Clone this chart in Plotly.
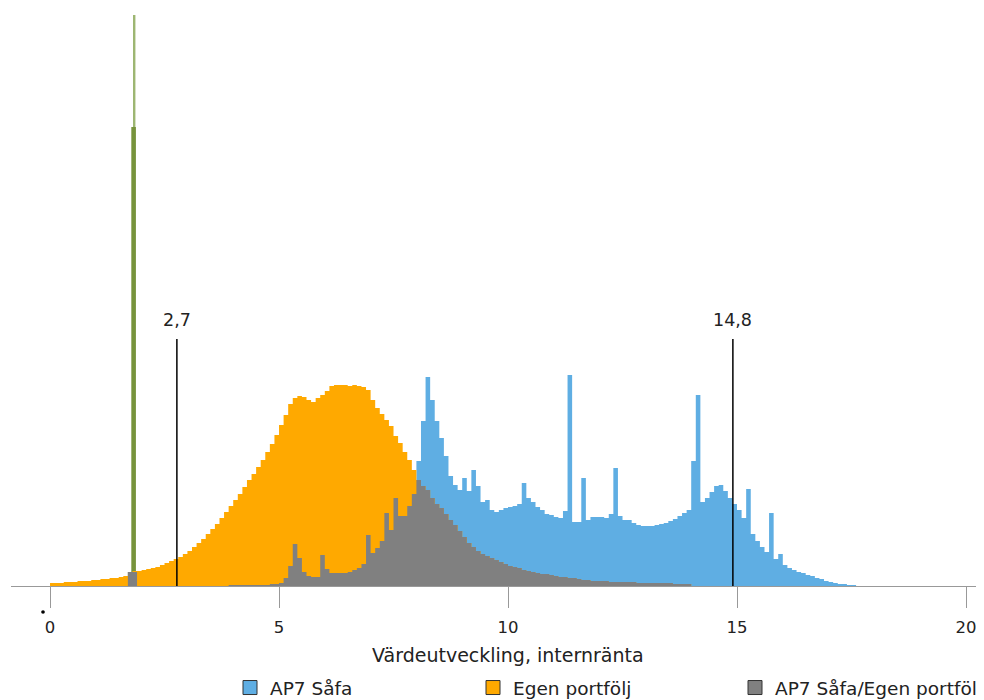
import plotly.graph_objects as go

# ---------------- data ----------------
BIN = 0.1  # histogram bin width (internal rate of return, %)

# AP7 Såfa – bin heights, bins start at 0.0 and step 0.1
blue = [
    0, 0, 0, 0, 0, 0, 0, 0, 0, 0,            # 0.0 - 0.9
    0, 0, 0, 0, 0, 0, 0, 14, 14, 0,          # 1.0 - 1.9
    0, 0, 0, 0, 0, 0, 0, 0, 0, 0,            # 2.0 - 2.9
    0, 0, 0, 0, 0, 0, 0, 0, 0, 1,            # 3.0 - 3.9
    1, 1, 1, 1, 1, 1, 1, 1, 2, 2,            # 4.0 - 4.9
    3, 8, 20, 42, 28, 14, 10, 9, 9, 31,      # 5.0 - 5.9
    17, 13, 13, 13, 13, 14, 16, 18, 22, 51,  # 6.0 - 6.9
    33, 38, 45, 73, 56, 88, 70, 70, 80, 92,  # 7.0 - 7.9
    125, 165, 209, 186, 165, 148, 130, 110, 101, 96,  # 8.0 - 8.9
    108, 95, 116, 100, 84, 86, 76, 74, 76, 78,        # 9.0 - 9.9
    79, 80, 82, 103, 88, 84, 79, 76, 72, 71,          # 10.0 - 10.9
    69, 68, 75, 211, 64, 64, 108, 66, 69, 69,         # 11.0 - 11.9
    69, 68, 72, 118, 70, 66, 66, 63, 61, 60,          # 12.0 - 12.9
    60, 60, 61, 62, 63, 65, 67, 70, 73, 76,           # 13.0 - 13.9
    125, 191, 84, 88, 94, 100, 101, 95, 88, 82,       # 14.0 - 14.9
    76, 68, 97, 52, 45, 39, 34, 73, 27, 32,           # 15.0 - 15.9
    21, 18, 16, 14, 13, 11, 10, 8, 7, 5,              # 16.0 - 16.9
    4, 3, 2, 2, 1, 1, 0,                              # 17.0 - 17.6
]

# Egen portfölj – bin heights, bins start at 0.0 and step 0.1
orange = [
    3, 3, 3, 4, 4, 4, 5, 5, 5, 6,                     # 0.0 - 0.9
    6, 7, 7, 8, 8, 9, 10, 14, 15, 15,                 # 1.0 - 1.9
    16, 17, 18, 19, 21, 23, 25, 27, 29, 32,           # 2.0 - 2.9
    35, 39, 43, 47, 52, 57, 62, 68, 74, 80,           # 3.0 - 3.9
    86, 92, 99, 106, 112, 119, 126, 134, 142, 151,    # 4.0 - 4.9
    161, 171, 182, 188, 190, 189, 186, 184, 188, 191, # 5.0 - 5.9
    195, 200, 201, 201, 201, 200, 201, 200, 199, 196, # 6.0 - 6.9
    186, 178, 172, 166, 160, 150, 143, 134, 126, 116, # 7.0 - 7.9
    106, 100, 96, 88, 82, 78, 72, 66, 61, 55,         # 8.0 - 8.9
    49, 43, 39, 35, 32, 30, 28, 26, 24, 22,           # 9.0 - 9.9
    20, 19, 18, 16, 15, 14, 13, 12, 12, 11,           # 10.0 - 10.9
    10, 9, 9, 8, 8, 7, 6, 6, 5, 5,                    # 11.0 - 11.9
    5, 5, 4, 4, 4, 4, 4, 4, 3, 3,                     # 12.0 - 12.9
    3, 3, 3, 3, 3, 3, 2, 2, 2, 2,                     # 13.0 - 13.9
]

# green spike (guaranteed-return outcome)
green_x = [1.825]
green_vals = [459]
green_peak_x = [1.847]
green_peak_vals = [571]

# vertical percentile markers
marker_pos = [2.77, 14.91]
marker_labels = ["2,7", "14,8"]
marker_height = 247

x_ticks = [0, 5, 10, 15, 20]
x_ticklabels = ["0", "5", "10", "15", "20"]

series_names = ["AP7 Såfa", "Egen portfölj", "AP7 Såfa/Egen portfölj"]
x_title = "Värdeutveckling, internränta"

# ---------------- derived ----------------
n = len(blue)
orange_full = orange + [0] * (n - len(orange))
overlap = [min(b, o) for b, o in zip(blue, orange_full)]
edges = [round(i * BIN, 3) for i in range(n + 1)]

BLUE = "#5FAEE3"
ORANGE = "#FFA900"
GRAY = "#808080"
GREEN = "#77933C"
GREEN_LIGHT = "#9DB672"
FONT = "DejaVu Sans"
TXT = "#222"

fig = go.Figure()

def step_area(vals, color):
    # histogram drawn as one filled step outline (no seams between bins)
    return go.Scatter(x=edges, y=list(vals) + [vals[-1]], mode="lines",
                      line=dict(shape="hv", width=0, color=color),
                      fill="tozeroy", fillcolor=color,
                      showlegend=False, hoverinfo="skip")

def bar(y, color, x, width):
    return go.Bar(x=x, y=y, width=width, marker=dict(color=color, line=dict(width=0)),
                  showlegend=False, hoverinfo="skip")

fig.add_trace(step_area(blue, BLUE))
fig.add_trace(step_area(orange_full, ORANGE))
fig.add_trace(bar(green_peak_vals, GREEN_LIGHT, green_peak_x, 0.035))
fig.add_trace(bar(green_vals, GREEN, green_x, 0.1))
fig.add_trace(step_area(overlap, GRAY))

# legend proxies
legend_ids = ["legend", "legend2", "legend3"]
for name, color, lid in zip(series_names, [BLUE, ORANGE, GRAY], legend_ids):
    fig.add_trace(go.Scatter(
        x=[None], y=[None], mode="markers", name=name, legend=lid,
        marker=dict(symbol="square", size=14, color=color, line=dict(color="#333", width=1)),
        showlegend=True))

for pos, lab in zip(marker_pos, marker_labels):
    fig.add_shape(type="line", x0=pos, x1=pos, y0=0, y1=marker_height,
                  xref="x", yref="y", line=dict(color="black", width=1.5))
    fig.add_annotation(x=pos, y=marker_height, text=lab, showarrow=False,
                       xref="x", yref="y", yanchor="bottom", yshift=7,
                       font=dict(family=FONT, size=17.5, color=TXT))

# axis title, centred under x = 10 as in the reference
fig.add_annotation(text=x_title, xref="paper", yref="paper", x=0.511, y=-0.1198,
                   xanchor="center", yanchor="middle", showarrow=False,
                   font=dict(family=FONT, size=19, color=TXT))

# small stray dot below the axis, left of the "0" label
fig.add_shape(type="circle", xref="paper", yref="paper",
              x0=0.0329 - 0.0019, x1=0.0329 + 0.0019,
              y0=-0.0451 - 0.0031, y1=-0.0451 + 0.0031,
              fillcolor="black", line=dict(width=0))

# the page body has an 8px margin, so the figure is sized to end at the window edge
W, H = 976, 692
legend_common = dict(orientation="h", xref="container", yref="container",
                     xanchor="left", yanchor="middle", y=(H - 680) / H,
                     font=dict(family=FONT, size=18.5, color=TXT),
                     bgcolor="rgba(0,0,0,0)", borderwidth=0)
legend_left_px = [222, 465, 727]

fig.update_layout(
    width=W, height=H,
    margin=dict(l=3, r=0, t=2, b=114),
    paper_bgcolor="white", plot_bgcolor="white",
    barmode="overlay",
    font=dict(family=FONT, size=16, color=TXT),
    xaxis=dict(range=[-0.852, 20.393], tickvals=x_ticks, ticktext=x_ticklabels,
               ticks="outside", ticklen=21, tickcolor="#999", tickwidth=1,
               showline=True, linecolor="#999", linewidth=1,
               showgrid=False, zeroline=False, ticklabelstandoff=5,
               tickfont=dict(family=FONT, size=16.5, color=TXT)),
    yaxis=dict(range=[0, 576], visible=False, fixedrange=True),
    legend=dict(x=legend_left_px[0] / W, **legend_common),
    legend2=dict(x=legend_left_px[1] / W, **legend_common),
    legend3=dict(x=legend_left_px[2] / W, **legend_common),
)

fig.write_html("out.html")
